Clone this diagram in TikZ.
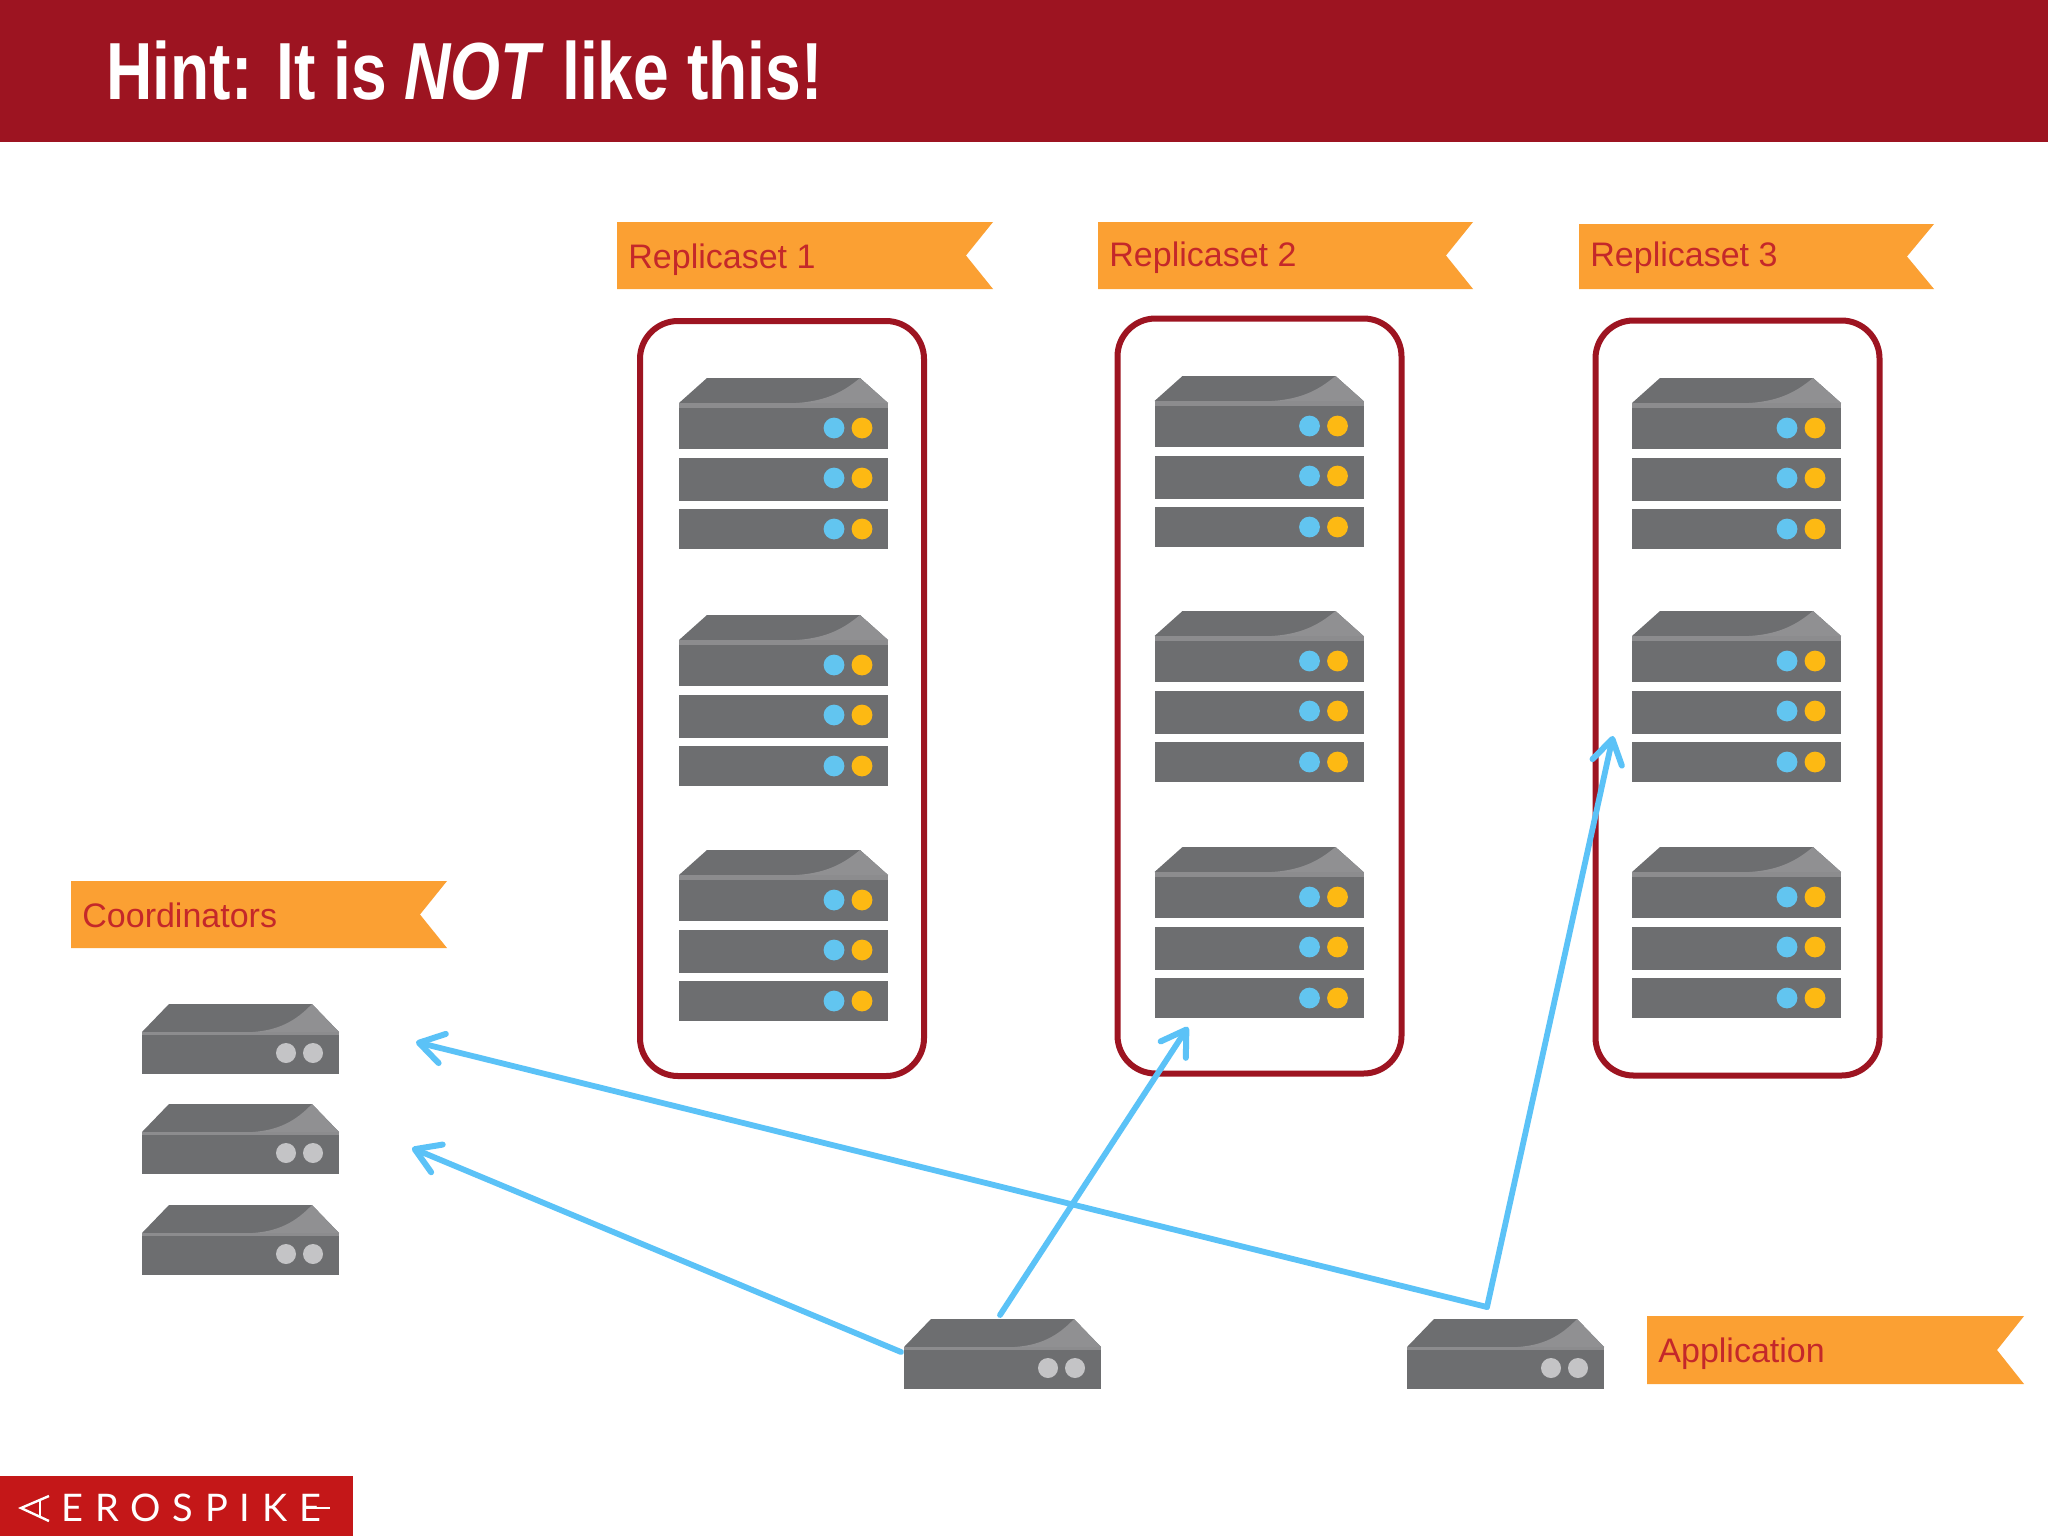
\documentclass[tikz,border=0pt]{standalone}
\usepackage{graphicx}
\usepackage{fontspec}
\setmainfont{Liberation Sans}
\newfontfamily\logofont[LetterSpace=31]{Lato}
\usetikzlibrary{arrows.meta,calc}
\definecolor{hdr}{HTML}{9D1421}
\definecolor{logored}{HTML}{C41718}
\definecolor{bannerc}{HTML}{FBA033}
\definecolor{bannertxt}{HTML}{C4282A}
\definecolor{srv}{HTML}{6D6E70}
\definecolor{srvlight}{HTML}{909092}
\definecolor{srvband}{HTML}{8C8C8E}
\definecolor{ledblue}{HTML}{62C5F0}
\definecolor{ledorange}{HTML}{FDB913}
\definecolor{ledgrey}{HTML}{C4C4C6}
\definecolor{flow}{HTML}{5BC2F7}
\tikzset{
  rackbox/.style={draw=hdr,line width=3pt,rounded corners=19pt,fill=white,rectangle,inner sep=0pt,outer sep=0pt,minimum width=142pt,minimum height=377.5pt},
  frameonly/.style={rectangle,inner sep=0pt,outer sep=0pt},
  bannertext/.style={text=bannertxt,font=\fontsize{17}{20}\selectfont,anchor=base west,inner sep=0pt},
  flowline/.style={draw=flow,line width=2.9pt,line cap=round,line join=round,-{Straight Barb[length=12pt,width=15pt,line width=3pt,round]}}
}
% top cap of a server, origin at the top-left corner of its bounding box
\newcommand{\srvtop}[3]{% width, inset, height
  \fill[srv] (0,#3) -- (#2,0) -- ({#1-#2},0) -- (#1,#3) -- cycle;
  \fill[srvlight] ({#1-#2},0) -- (#1,#3) -- ({#1*0.56},#3) .. controls ({#1*0.72},{#3-2}) and ({#1*0.80},{#3*0.45}) .. ({#1-#2},0) -- cycle;
}
\newcommand{\rackpic}[3]{% name, x, y
  \begin{scope}[shift={(#2,#3)}]
    \srvtop{209}{28}{25}
    \fill[srv] (0,25) rectangle (209,71);
    \fill[srvband] (0,25) rectangle (209,30);
    \fill[srv] (0,80) rectangle (209,123);
    \fill[srv] (0,131) rectangle (209,171);
    \foreach \dy in {50,100,151}{
      \fill[ledblue] (155,\dy) circle (5.2pt);
      \fill[ledorange] (183,\dy) circle (5.2pt);
    }
    \node[frameonly,minimum width=104.5pt,minimum height=85.5pt] (#1) at (104.5,85.5) {};
  \end{scope}
}
\newcommand{\smallsrv}[3]{% name, x, y
  \begin{scope}[shift={(#2,#3)}]
    \srvtop{197}{27}{28}
    \fill[srv] (0,28) rectangle (197,70);
    \fill[srvband] (0,28) rectangle (197,31);
    \fill[ledgrey] (144,49) circle (5pt);
    \fill[ledgrey] (171,49) circle (5pt);
    \node[frameonly,minimum width=98.5pt,minimum height=35pt] (#1) at (98.5,35) {};
  \end{scope}
}
\newcommand{\bannerlabel}[7]{% name, x1, y1, x2, y2, baseline, text
  \fill[bannerc] (#2,#3) -- (#4,#3) -- ({#4-27},{(#3+#5)/2}) -- (#4,#5) -- (#2,#5) -- cycle;
  \node[bannertext] (#1) at ({#2+11},#6) {#7};
}
\begin{document}
\begin{tikzpicture}[x=0.5pt,y=-0.5pt]
\useasboundingbox (0,0) rectangle (2048,1536);
\fill[white] (0,0) rectangle (2048,1536);
% header
\fill[hdr] (0,0) rectangle (2048,141.5);
\node[anchor=base west,inner sep=0pt,text=white] (title) at (106,99)
  {\scalebox{0.792}[1]{\fontsize{40.5}{46}\selectfont\bfseries Hint: It is \textit{NOT} like this!}};
% logo
\fill[logored] (0,1476) rectangle (353,1536);
\node[anchor=base west,inner sep=0pt,text=white] (logo) at (61,1521.5)
  {\logofont\fontsize{19}{20}\selectfont EROSPIKE};
\draw[white,line width=1.2pt,line join=miter] (49,1496) -- (21,1508) -- (49,1521);
\draw[white,line width=1.2pt] (40,1500) -- (40,1517);
\draw[white,line width=1.2pt] (304,1508) -- (330,1508);
% banners
\bannerlabel{bannerA}{617}{222}{993}{289}{268}{Replicaset 1}
\bannerlabel{bannerB}{1098}{222}{1473}{289}{266}{Replicaset 2}
\bannerlabel{bannerC}{1579}{224}{1934}{289}{266}{Replicaset 3}
\bannerlabel{bannerD}{71}{881}{447}{948}{927}{Coordinators}
\bannerlabel{bannerE}{1647}{1316}{2024}{1384}{1362}{Application}
% replica set frames
\node[rackbox] (setA) at (782,698.5) {};
\node[rackbox] (setB) at (1259.5,696) {};
\node[rackbox] (setC) at (1737.5,698) {};
% servers
\rackpic{a1}{679}{378}\rackpic{a2}{679}{615}\rackpic{a3}{679}{850}
\rackpic{b1}{1154.5}{376}\rackpic{b2}{1154.5}{611}\rackpic{b3}{1154.5}{847}
\rackpic{c1}{1632}{378}\rackpic{c2}{1632}{611}\rackpic{c3}{1632}{847}
\smallsrv{co1}{142}{1004}\smallsrv{co2}{142}{1104}\smallsrv{co3}{142}{1205}
\smallsrv{app1}{904}{1319}\smallsrv{app2}{1407}{1319}
% connector ends
\coordinate (hubB) at (1487,1307);
\coordinate (toCoA) at (416,1042);
\coordinate (toCoB) at (412,1148);
\coordinate (toSetB) at (1188,1027);
\coordinate (toSetC) at (1613,736);
\coordinate (fromA) at (901,1352);
\coordinate (fromB) at (1000,1315);
\draw[flowline] (hubB) -- (toCoA);
\draw[flowline] (hubB) -- (toSetC);
\draw[flowline] (fromA) -- (toCoB);
\draw[flowline] (fromB) -- (toSetB);
\end{tikzpicture}
\end{document}
